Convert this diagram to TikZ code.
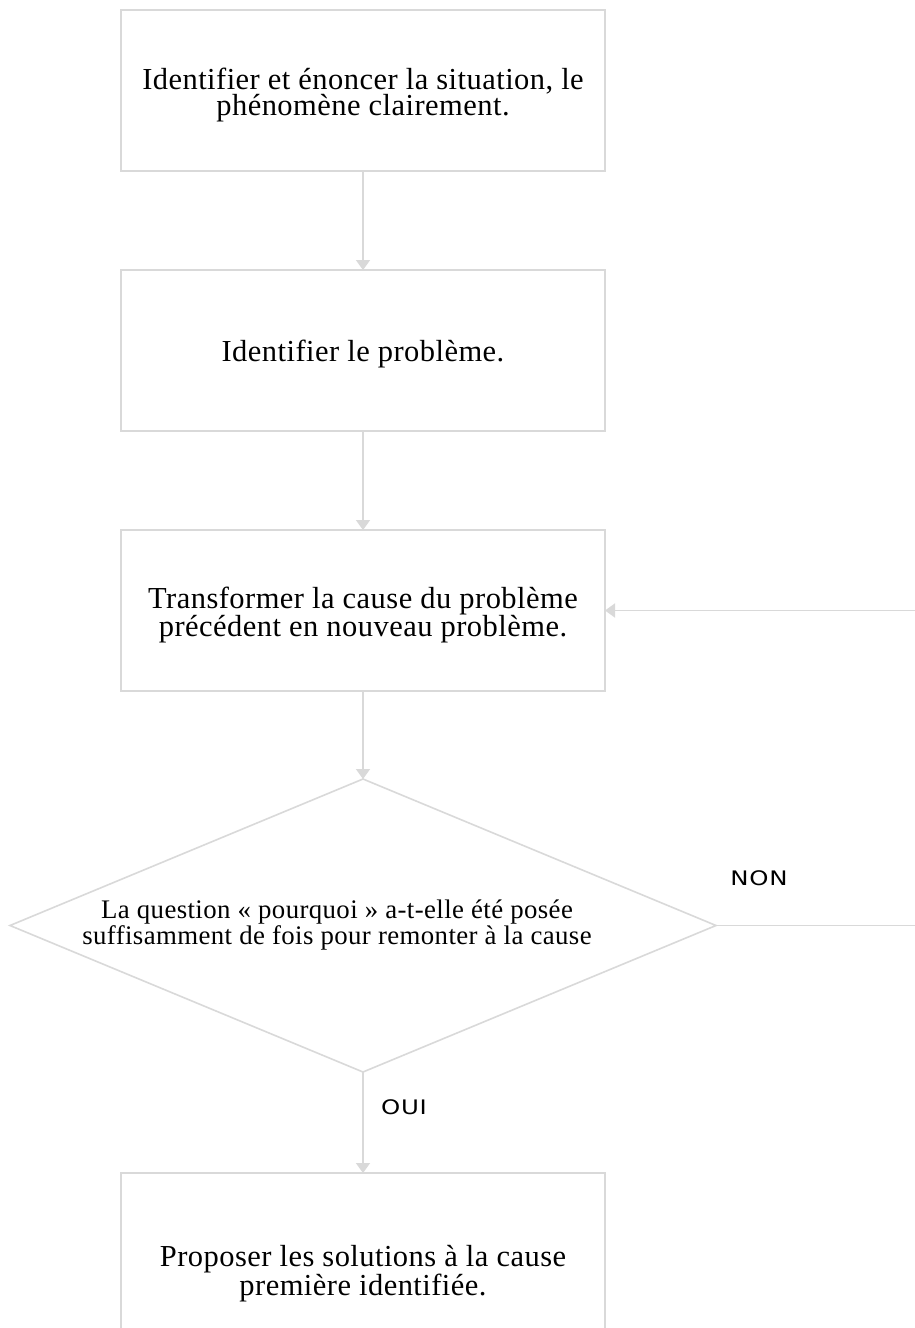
\documentclass[tikz,border=0pt]{standalone}
\usepackage{fontspec}
\setmainfont{Liberation Serif}[LetterSpace=1.5]
\newfontfamily\labelfont[FakeStretch=1.22, LetterSpace=4]{DejaVu Sans}
\usetikzlibrary{arrows.meta}
\definecolor{linegray}{HTML}{D9D9D9}
\tikzset{
  stepbox/.style={draw=linegray, line width=1.6pt, minimum width=484pt,
    minimum height=161pt, inner sep=0pt, outer sep=0pt},
  steptext/.style={align=center, inner sep=0pt,
    font=\fontsize{30.5}{26.5}\selectfont},
  asktext/.style={align=center, inner sep=0pt,
    font=\fontsize{26.8}{26.5}\selectfont},
  askline/.style={draw=linegray, line width=1.6pt, line join=miter},
  conn/.style={draw=linegray, line width=1.6pt,
    -{Triangle[width=14pt,length=10pt]}},
  answer/.style={font=\labelfont\fontsize{20}{22}\selectfont, inner sep=0pt}
}
\begin{document}
\begin{tikzpicture}[x=1pt,y=-1pt]
  \path[use as bounding box, clip] (0,0) rectangle (915,1328);
  \fill[white] (0,0) rectangle (915,1328);

  % process steps
  \node[stepbox] (s1) at (363,90.5) {};
  \node[steptext] (s1t) at (363,95)
    {Identifier et énoncer la situation, le\\phénomène clairement.};
  \node[stepbox] (s2) at (363,350.5) {};
  \node[steptext] (s2t) at (363,354) {Identifier le problème.};
  \node[stepbox] (s3) at (363,610.5) {};
  \node[steptext] (s3t) at (363,615)
    {Transformer la cause du problème\\précédent en nouveau problème.};
  \node[stepbox, minimum height=194pt] (s5) at (363,1270) {};
  \node[steptext] (s5t) at (363,1274)
    {Proposer les solutions à la cause\\première identifiée.};

  % decision
  \coordinate (qt) at (363,779);
  \coordinate (ql) at (10,925.5);
  \coordinate (qr) at (716,925.5);
  \coordinate (qb) at (363,1072);
  \draw[askline] (qt) -- (qr) -- (qb) -- (ql) -- cycle;
  \node[asktext] (q) at (337,925)
    {La question « pourquoi » a-t-elle été posée\\suffisamment de fois pour remonter à la cause};

  \coordinate (loop) at (960,0);

  % connectors
  \draw[conn] (s1) -- (s2);
  \draw[conn] (s2) -- (s3);
  \draw[conn] (s3) -- (qt);
  \draw[conn] (qb) -- (s5);
  \draw[conn] (qr) -- (qr -| loop) -- (s3.east -| loop) -- (s3.east);

  \node[answer] (oui) at (404,1107) {OUI};
  \node[answer] (non) at (759,878) {NON};
\end{tikzpicture}
\end{document}
